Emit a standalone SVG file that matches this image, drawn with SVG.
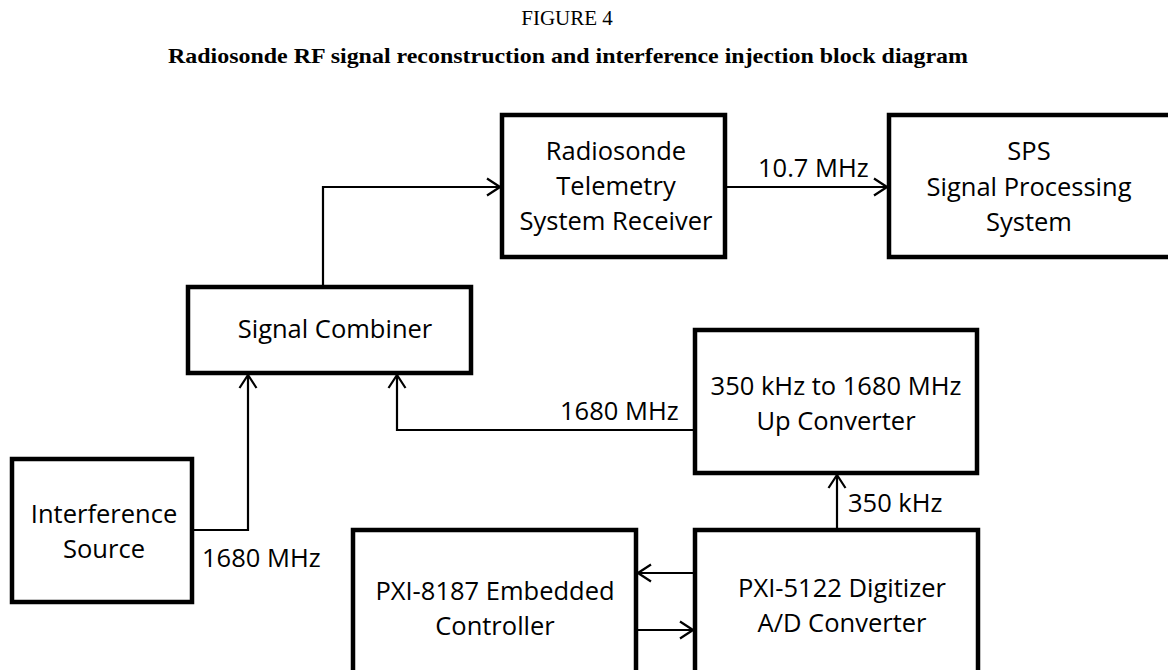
<svg xmlns="http://www.w3.org/2000/svg" width="1168" height="670" viewBox="0 0 1168 670">
<style>
.box{fill:#fff;stroke:#000;stroke-width:4.5}
.t{font-family:"Open Sans","Liberation Sans",sans-serif;font-size:25.5px;fill:#000;text-anchor:middle;dominant-baseline:central}
.lbl{font-family:"Open Sans","Liberation Sans",sans-serif;font-size:25.5px;fill:#000;dominant-baseline:central}
.c{fill:none;stroke:#000;stroke-width:2.2}
.title{font-family:"Liberation Serif","Times New Roman",serif;fill:#000;text-anchor:middle}
</style>
<defs>
<marker id="arr" viewBox="0 0 15 20" refX="14" refY="10" markerWidth="15" markerHeight="20" markerUnits="userSpaceOnUse" orient="auto">
<path d="M1,1.5 L14,10 L1,18.5" fill="none" stroke="#000" stroke-width="2.2"/>
</marker>
</defs>
<text class="title" x="567" y="25" font-size="21">FIGURE 4</text>
<text class="title" x="568" y="63" font-size="21" font-weight="bold" textLength="800" lengthAdjust="spacingAndGlyphs">Radiosonde RF signal reconstruction and interference injection block diagram</text>

<g id="connectors">
<path class="c" d="M323,287 V187 H500" marker-end="url(#arr)"/>
<path class="c" d="M725,187 H887" marker-end="url(#arr)"/>
<path class="c" d="M192,530 H248 V375" marker-end="url(#arr)"/>
<path class="c" d="M695,430 H397 V375" marker-end="url(#arr)"/>
<path class="c" d="M837,530 V475" marker-end="url(#arr)"/>
<path class="c" d="M695,573 H638" marker-end="url(#arr)"/>
<path class="c" d="M636,630 H693" marker-end="url(#arr)"/>
<text class="lbl" x="758" y="167">10.7 MHz</text>
<text class="lbl" x="202" y="557">1680 MHz</text>
<text class="lbl" x="560" y="410">1680 MHz</text>
<text class="lbl" x="848" y="502">350 kHz</text>
</g>

<g id="receiver">
<rect class="box" x="502" y="115" width="223" height="142"/>
<text class="t" x="616" y="150">Radiosonde</text>
<text class="t" x="616" y="185">Telemetry</text>
<text class="t" x="616" y="220">System Receiver</text>
</g>
<g id="sps">
<rect class="box" x="889" y="115" width="290" height="142"/>
<text class="t" x="1029" y="150">SPS</text>
<text class="t" x="1029" y="186">Signal Processing</text>
<text class="t" x="1029" y="221">System</text>
</g>
<g id="combiner">
<rect class="box" x="188" y="287" width="283" height="86"/>
<text class="t" x="335" y="328">Signal Combiner</text>
</g>
<g id="upconverter">
<rect class="box" x="695" y="330" width="282" height="143"/>
<text class="t" x="836" y="385">350 kHz to 1680 MHz</text>
<text class="t" x="836" y="420">Up Converter</text>
</g>
<g id="interference">
<rect class="box" x="12" y="459" width="180" height="143"/>
<text class="t" x="104" y="513">Interference</text>
<text class="t" x="104" y="548">Source</text>
</g>
<g id="controller">
<rect class="box" x="353" y="530" width="283" height="160"/>
<text class="t" x="495" y="590">PXI-8187 Embedded</text>
<text class="t" x="495" y="625">Controller</text>
</g>
<g id="digitizer">
<rect class="box" x="695" y="530" width="283" height="160"/>
<text class="t" x="842" y="587">PXI-5122 Digitizer</text>
<text class="t" x="842" y="622">A/D Converter</text>
</g>
</svg>
